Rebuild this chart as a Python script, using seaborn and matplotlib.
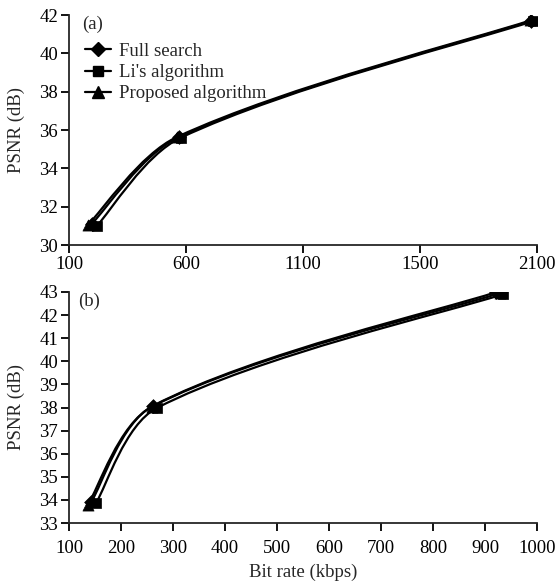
import numpy as np
import pandas as pd
import seaborn as sns
import matplotlib.pyplot as plt
from matplotlib.path import Path
from matplotlib.patches import PathPatch
from matplotlib.lines import Line2D

# (a) bit rate / PSNR
series = ["Full search", "Li's algorithm", "Proposed algorithm"]
a_rate = {
    "Full search": [197, 568, 2076],
    "Li's algorithm": [219, 578, 2083],
    "Proposed algorithm": [180, 562, 2072],
}
a_psnr = {
    "Full search": [31.1, 35.62, 41.7],
    "Li's algorithm": [31.0, 35.6, 41.68],
    "Proposed algorithm": [31.04, 35.64, 41.72],
}
# (b)
b_rate = {
    "Full search": [143, 262, 922],
    "Li's algorithm": [152, 269, 935],
    "Proposed algorithm": [136, 260, 928],
}
b_psnr = {
    "Full search": [33.92, 38.08, 43.0],
    "Li's algorithm": [33.87, 37.98, 42.91],
    "Proposed algorithm": [33.78, 38.04, 42.95],
}
markers = {"Full search": "D", "Li's algorithm": "s", "Proposed algorithm": "^"}
msize = {"Full search": 7, "Li's algorithm": 7.5, "Proposed algorithm": 8}

a_xticks = [100, 600, 1100, 1600, 2100]
a_xlabels = ["100", "600", "1100", "1500", "2100"]
a_yticks = list(range(30, 43, 2))
b_xticks = list(range(100, 1001, 100))
b_yticks = list(range(33, 44))

FS = 13.5


def smooth_path(ax, x, y):
    # smoothed line like the spreadsheet one: cubic Bezier through the points,
    # tangents weighted by the chord lengths on screen
    pts = ax.transData.transform(np.column_stack([x, y]).astype(float))
    n = len(pts)
    d = np.linalg.norm(np.diff(pts, axis=0), axis=1)
    verts = [pts[0]]
    for i in range(n - 1):
        p1, p2 = pts[i], pts[i + 1]
        if i == 0:
            c1 = p1 + (p2 - p1) / 6
        else:
            c1 = p1 + (p2 - pts[i - 1]) * d[i] / (d[i - 1] + d[i]) / 3
        if i == n - 2:
            c2 = p2 - (p2 - p1) / 6
        else:
            c2 = p2 - (pts[i + 2] - p1) * d[i] / (d[i] + d[i + 1]) / 3
        verts += [c1, c2, p2]
    verts = ax.transData.inverted().transform(np.array(verts))
    codes = [Path.MOVETO] + [Path.CURVE4] * (len(verts) - 1)
    return Path(verts, codes)


sns.set_style("ticks")
plt.rcParams["font.family"] = ["Liberation Serif", "DejaVu Serif"]
plt.rcParams["font.size"] = FS

fig = plt.figure(figsize=(5.58, 5.86), dpi=100)
ax1 = fig.add_axes([69 / 558, 1 - 245 / 586, 468 / 558, 230 / 586])
ax2 = fig.add_axes([69 / 558, 1 - 523 / 586, 468 / 558, 231 / 586])

ax1.set_xlim(100, 2100)
ax1.set_ylim(30, 42)
ax2.set_xlim(100, 1000)
ax2.set_ylim(33, 43)

for ax, rate, psnr in [(ax1, a_rate, a_psnr), (ax2, b_rate, b_psnr)]:
    for s in series:
        ax.add_patch(PathPatch(smooth_path(ax, rate[s], psnr[s]), facecolor="none",
                               edgecolor="black", lw=1.6, transform=ax.transData, zorder=2))
    for s in series:
        df = pd.DataFrame({"x": rate[s], "y": psnr[s]})
        sns.scatterplot(data=df, x="x", y="y", marker=markers[s], color="black",
                        s=msize[s] ** 2, edgecolor="black", linewidth=0.5, ax=ax, zorder=3)

ax1.set_xlim(100, 2100)
ax1.set_ylim(30, 42)
ax1.set_xticks(a_xticks)
ax1.set_xticklabels(a_xlabels)
ax1.set_yticks(a_yticks)
ax2.set_xlim(100, 1000)
ax2.set_ylim(33, 43)
ax2.set_xticks(b_xticks)
ax2.set_yticks(b_yticks)

for ax in (ax1, ax2):
    sns.despine(ax=ax)
    for sp in ax.spines.values():
        sp.set_linewidth(1.3)
    ax.tick_params(direction="out", length=6, width=1.3, labelsize=FS, colors="black", pad=2)
    ax.set_ylabel("PSNR (dB)", fontsize=FS, labelpad=10)
    ax.set_xlabel("")
ax2.tick_params(axis="x", pad=6)

ax2.set_xlabel("Bit rate (kbps)", fontsize=FS, labelpad=5)
ax1.text(0.027, 0.995, "(a)", transform=ax1.transAxes, va="top", ha="left", fontsize=FS)
ax2.text(0.02, 0.995, "(b)", transform=ax2.transAxes, va="top", ha="left", fontsize=FS)

handles = [Line2D([], [], color="black", lw=1.6, marker=markers[s], markersize=msize[s])
           for s in series]
ax1.legend(handles, series, loc="upper left", bbox_to_anchor=(0.015, 0.92), frameon=False,
           borderpad=0, handlelength=1.35, handletextpad=0.45, labelspacing=0.22, fontsize=FS)

fig.savefig("out.png", dpi=100)
